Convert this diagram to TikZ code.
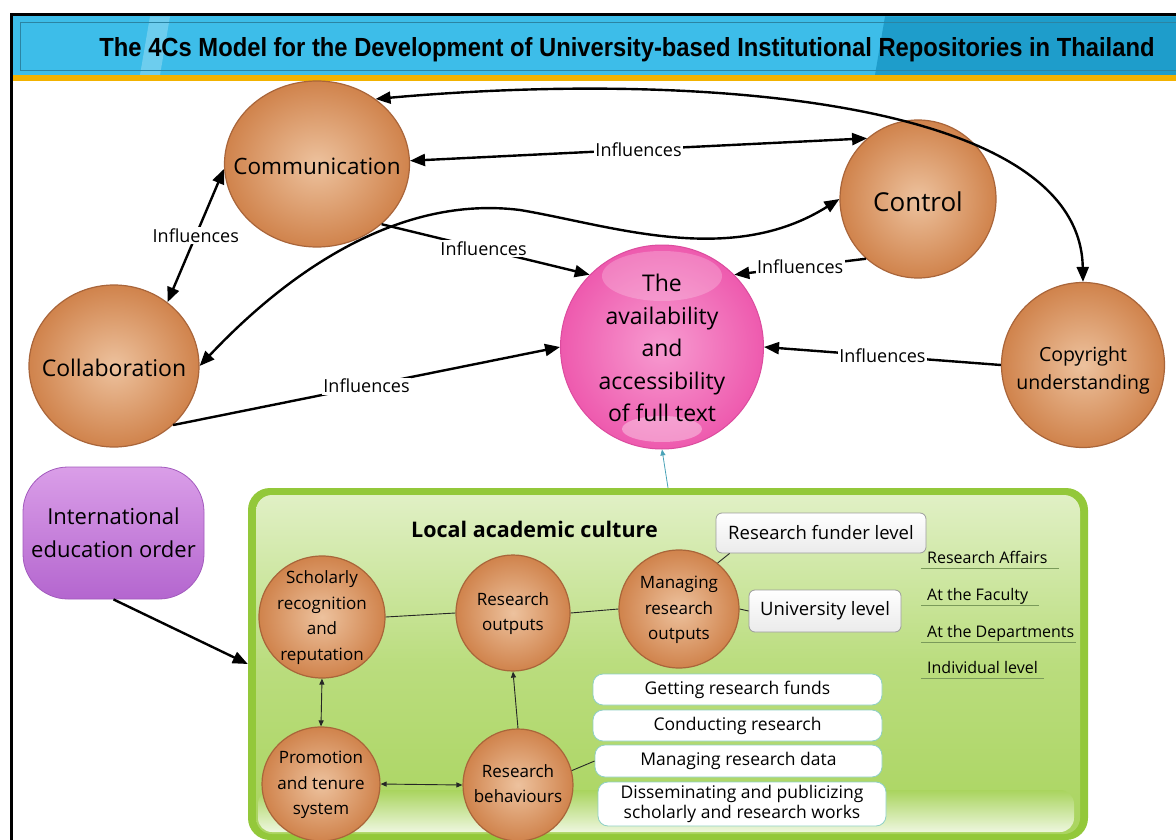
\documentclass[tikz,border=0pt]{standalone}
\usepackage{fontspec}
\setmainfont{Open Sans}
\newfontfamily\titlefont{Liberation Sans}
\usepackage{graphicx}
\usetikzlibrary{shapes.geometric,arrows.meta}
\definecolor{titleblue}{HTML}{3DBDE9}
\definecolor{titledark}{HTML}{1E9DCB}
\definecolor{orangebar}{HTML}{F2B200}
\definecolor{orbin}{HTML}{EDC29E}
\definecolor{orbout}{HTML}{D0834C}
\definecolor{orbline}{HTML}{A9653A}
\definecolor{pinkin}{HTML}{F79BD0}
\definecolor{pinkout}{HTML}{EE5AAE}
\definecolor{pinkline}{HTML}{DB4C9E}
\definecolor{purtop}{HTML}{DA9EE8}
\definecolor{purbot}{HTML}{B466CF}
\definecolor{purline}{HTML}{A25ABD}
\definecolor{gborder}{HTML}{93C83A}
\definecolor{gtop}{HTML}{E2F1C8}
\definecolor{gbot}{HTML}{A9D45E}
\definecolor{tealc}{HTML}{4AA3B8}
\definecolor{boxline}{HTML}{8ECFC6}
\definecolor{greyline}{HTML}{9C9C9C}
\definecolor{uline}{HTML}{7A9A5A}
\newcommand\szB{\fontsize{17}{25.5}\selectfont}
\newcommand\ctr[2][-.25em]{\makebox[0pt]{\smash{\raisebox{#1}{\begin{tabular}{@{}c@{}}#2\end{tabular}}}}}
\begin{document}
\begin{tikzpicture}[x=1pt,y=-1pt,
  >={Triangle[length=15pt,width=12pt]},
  smalltip/.style={-{Triangle[length=6pt,width=5pt]}},
  smallboth/.style={{Triangle[length=6pt,width=5pt]}-{Triangle[length=6pt,width=5pt]}},
  orb/.style={ellipse, inner sep=0pt, draw=orbline, line width=1.2pt,
    inner color=orbin, outer color=orbout},
  conn/.style={line width=2.4pt, black},
  thinline/.style={line width=0.9pt, black!85},
  lab/.style={fill=white, inner sep=1.5pt, font=\fontsize{18}{20}\selectfont},
  lvlbox/.style={rounded corners=6pt, draw=greyline, line width=0.8pt, top color=white, bottom color=black!8,
    font=\fontsize{18.5}{21}\selectfont, inner sep=0pt},
  actbox/.style={rounded corners=10pt, draw=boxline, line width=0.8pt, fill=white,
    font=\fontsize{17.5}{21}\selectfont, inner sep=0pt, align=center},
  sidetxt/.style={anchor=base west, inner sep=0pt, font=\fontsize{16}{18}\selectfont}
]
\useasboundingbox (0,0) rectangle (1176,840);
\fill[white] (0,0) rectangle (1176,840);
% frame and title bar
\fill[titleblue] (12.5,16.5) rectangle (1176,75);
\fill[titledark] (885,16.5) -- (1176,16.5) -- (1176,75) -- (875,75) -- cycle;
\fill[white,opacity=.25] (150,16.5) -- (170,16.5) -- (160,75) -- (140,75) -- cycle;
\draw[black!30!titleblue, line width=0.8pt] (20,22) -- (1176,22);
\draw[black!30!titleblue, line width=0.8pt] (20,22) -- (20,70) -- (1176,70);
\fill[orangebar] (12.5,75) rectangle (1176,81);
\draw[line width=3pt] (11,840) -- (11,15) -- (1176,15);
\node[anchor=base, inner sep=0pt] (title) at (627,57)
  {\titlefont\bfseries\resizebox{1055pt}{19pt}{The 4Cs Model for the Development of University-based Institutional Repositories in Thailand}};

% upper nodes
\node[orb, minimum width=185pt, minimum height=166pt, font=\fontsize{22.5}{26}\selectfont] (comm) at (317,164) {\ctr[-.45em]{Communication}};
\node[orb, minimum width=170pt, minimum height=162pt, font=\fontsize{23}{26}\selectfont] (collab) at (114,366) {\ctr[-.5em]{Collaboration}};
\node[orb, minimum width=156pt, minimum height=158pt, font=\fontsize{26}{30}\selectfont] (ctrl) at (918,199) {\ctr[-.48em]{Control}};
\node[orb, minimum width=163pt, minimum height=165pt, font=\fontsize{19.5}{28}\selectfont] (copy) at (1083,365) {\ctr[-.5em]{Copyright\\understanding}};
\node[ellipse, inner sep=0pt, minimum width=203pt, minimum height=204pt,
  draw=pinkline, line width=1pt, inner color=pinkin, outer color=pinkout,
  font=\fontsize{23}{32.5}\selectfont,
  path picture={
    \fill[white,opacity=.22] ([yshift=-31pt]path picture bounding box.north) ellipse (60pt and 25pt);
    \fill[white,opacity=.35] ([yshift=20pt]path picture bounding box.south) ellipse (40pt and 13pt);
  }] (avail) at (662,347) {\ctr[-.42em]{The\\availability\\and\\accessibility\\of full text}};

% upper connectors
\draw[conn,<->] (comm.48) .. controls (700,70) and (1080,100) .. (copy.north);
\draw[conn,<->] (comm.2) -- (ctrl.130) node[lab,pos=.5] {Influences};
\draw[conn,<->] (comm.183) -- (collab.50) node[lab,pos=.5] {Influences};
\draw[conn,<->] (collab.east) .. controls (290,270) and (400,195) .. (520,210)
   .. controls (610,225) and (730,268) .. (ctrl.west);
\draw[conn,->] (comm.-43) -- (avail.135) node[lab,pos=.49] {Influences};
\draw[conn,->] (collab.-45) -- (avail.180) node[lab,pos=.5] {Influences};
\draw[conn,->] (ctrl.229) -- (avail.45) node[lab,pos=.5] {Influences};
\draw[conn,->] (copy.west) -- (avail.0) node[lab,pos=.5] {Influences};

% international education order
\node[rounded corners=45pt, top color=purtop, bottom color=purbot, draw=purline, line width=0.8pt,
  minimum width=181pt, minimum height=132pt, inner sep=0pt, align=center,
  font=\fontsize{22}{33}\selectfont] (intl) at (113.5,533) {International\\education order};

% local academic culture box
\node[rounded corners=22pt, fill=gborder, minimum width=840pt, minimum height=352pt, inner sep=0pt,
  path picture={
    \shade[top color=gtop, bottom color=gbot, middle color=gbot!70!gtop, rounded corners=16pt]
      ([shift={(8pt,-7pt)}]path picture bounding box.north west) rectangle
      ([shift={(-8pt,6pt)}]path picture bounding box.south east);
    \shade[top color=gbot, bottom color=gtop!60!white, rounded corners=14pt]
      ([shift={(10pt,50pt)}]path picture bounding box.south west) rectangle
      ([shift={(-14pt,8pt)}]path picture bounding box.south east);
  }] (culture) at (668,664) {};
\node[anchor=base west, inner sep=0pt, font=\bfseries\fontsize{21.5}{24}\selectfont] (localtitle) at (411,537) {Local academic culture};

\draw[conn,->] (intl.south) -- (culture.west);
\draw[tealc, line width=0.8pt, -{Triangle[length=6pt,width=5pt]}] (culture.north) -- (avail.south);

% inner circles
\node[orb, minimum width=126pt, minimum height=122pt, font=\szB] (schol) at (322,617) {\ctr{Scholarly\\recognition\\and\\reputation}};
\node[orb, minimum width=114pt, minimum height=116pt, font=\szB] (outs) at (513,613) {\ctr{Research\\outputs}};
\node[orb, minimum width=120pt, minimum height=118pt, font=\szB] (manage) at (679,609) {\ctr{Managing\\research\\outputs}};
\node[orb, minimum width=118pt, minimum height=114pt, font=\szB] (promo) at (321,784) {\ctr{Promotion\\and tenure\\system}};
\node[orb, minimum width=110pt, minimum height=112pt, font=\szB] (behav) at (518,785) {\ctr{Research\\behaviours}};

% level boxes
\node[lvlbox, minimum width=210pt, minimum height=40pt] (funder) at (821,533) {Research funder level};
\node[lvlbox, minimum width=152pt, minimum height=42pt] (univ) at (825,611) {University level};

% activity boxes
\node[actbox, minimum width=289pt, minimum height=31pt] (getting) at (737.5,689.5) {Getting research funds};
\node[actbox, minimum width=289pt, minimum height=31pt] (conducting) at (737.5,725.5) {Conducting research};
\node[actbox, minimum width=287pt, minimum height=32pt] (mdata) at (738.5,761) {Managing research data};
\node[actbox, minimum width=288pt, minimum height=44pt, font=\fontsize{17.5}{20}\selectfont] (dissem) at (742,804) {Disseminating and publicizing\\scholarly and research works};

% side texts
\node[sidetxt] (affairs) at (927,563) {Research Affairs};
\node[sidetxt] (faculty) at (927,600) {At the Faculty};
\node[sidetxt] (depts) at (927,637) {At the Departments};
\node[sidetxt] (indiv) at (927,673) {Individual level};
\draw[uline, line width=0.8pt] (921,568) -- (1059,568);
\draw[uline, line width=0.8pt] (921,605) -- (1039,605);
\draw[uline, line width=0.8pt] (921,642) -- (1076,642);
\draw[uline, line width=0.8pt] (921,678) -- (1044,678);

% inner connectors
\draw[thinline] (schol.east) -- (outs.west);
\draw[thinline] (outs.east) -- (manage.west);
\draw[thinline] (manage.50) -- ([xshift=14pt]funder.south west);
\draw[thinline] (manage.east) -- (univ.west);
\draw[thinline, smallboth] (schol.south) -- (promo.north);
\draw[thinline, smallboth] (promo.east) -- (behav.west);
\draw[thinline, smalltip] (behav.north) -- (outs.south);
\draw[thinline] (behav.15) -- (mdata.west);
\end{tikzpicture}
\end{document}
